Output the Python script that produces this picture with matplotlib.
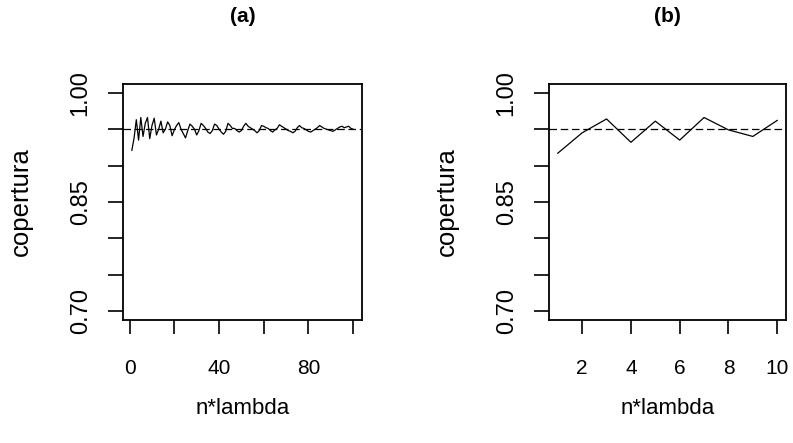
import matplotlib
matplotlib.use("Agg")
import matplotlib.pyplot as plt
import numpy as np

plt.rcParams['font.family'] = ['Liberation Sans', 'DejaVu Sans']

# panel (a): coverage vs n*lambda = 1..100
x_a = list(range(1, 101))
cov_a = [0.921, 0.938, 0.963, 0.935, 0.966, 0.940, 0.958, 0.966, 0.937, 0.955,
         0.965, 0.942, 0.950, 0.961, 0.945, 0.950, 0.960, 0.955, 0.941, 0.949,
         0.955, 0.959, 0.950, 0.944, 0.938, 0.948, 0.957, 0.954, 0.950, 0.942,
         0.948, 0.958, 0.955, 0.951, 0.946, 0.944, 0.948, 0.957, 0.955, 0.950,
         0.946, 0.943, 0.947, 0.958, 0.955, 0.951, 0.951, 0.948, 0.946, 0.948,
         0.954, 0.958, 0.954, 0.952, 0.950, 0.948, 0.945, 0.948, 0.955, 0.954,
         0.952, 0.951, 0.948, 0.946, 0.949, 0.951, 0.956, 0.954, 0.952, 0.950,
         0.948, 0.947, 0.945, 0.947, 0.952, 0.955, 0.952, 0.951, 0.949, 0.947,
         0.946, 0.948, 0.950, 0.952, 0.955, 0.953, 0.951, 0.950, 0.949, 0.948,
         0.947, 0.949, 0.951, 0.953, 0.954, 0.952, 0.953, 0.954, 0.951, 0.950]

# panel (b): coverage vs n*lambda = 1..10
x_b = list(range(1, 11))
cov_b = [0.917, 0.945, 0.964, 0.932, 0.961, 0.935, 0.966, 0.949, 0.940, 0.962]

nominal = 0.95
titles = ["(a)", "(b)"]
xlabel = "n*lambda"
ylabel = "copertura"
yticks = [0.70, 0.75, 0.80, 0.85, 0.90, 0.95, 1.00]
ytick_labels = ["0.70", "", "", "0.85", "", "", "1.00"]
xticks_a = [0, 20, 40, 60, 80, 100]
xtick_labels_a = ["0", "", "40", "", "80", ""]
xticks_b = [2, 4, 6, 8, 10]
xtick_labels_b = ["2", "4", "6", "8", "10"]

W, H = 793, 443
fig = plt.figure(figsize=(W / 100, H / 100), dpi=100)

def add_axes(l, t, r, b):
    return fig.add_axes([l / W, 1 - b / H, (r - l) / W, (b - t) / H])

ax_a = add_axes(123, 84, 362, 320)
ax_b = add_axes(549, 84, 786, 320)

def r_lim(lo, hi):
    d = (hi - lo) * 0.04
    return lo - d, hi + d

panels = [
    (ax_a, x_a, cov_a, xticks_a, xtick_labels_a, titles[0], 123, 239),
    (ax_b, x_b, cov_b, xticks_b, xtick_labels_b, titles[1], 549, 237),
]
for ax, xs, ys, xt, xtl, title, left, width in panels:
    ax.plot(xs, ys, color="black", lw=0.9)
    ax.axhline(nominal, color="black", lw=0.9, dashes=(6, 3))
    ax.set_xlim(*r_lim(min(xs), max(xs)))
    ax.set_ylim(*r_lim(0.70, 1.00))
    ax.set_yticks(yticks)
    ax.set_yticklabels(ytick_labels, rotation=90, va="center", fontsize=17)
    ax.set_xticks(xt)
    ax.set_xticklabels(xtl, fontsize=15)
    ax.tick_params(axis="y", length=10.5, width=1.2, pad=12, color="black")
    ax.tick_params(axis="x", length=10, width=1.2, pad=18, color="black")
    for s in ax.spines.values():
        s.set_linewidth(1.3)
        s.set_color("black")
    ax.set_xlabel(xlabel, fontsize=16)
    ax.set_ylabel(ylabel, fontsize=18.5)
    ax.xaxis.set_label_coords(0.5, (320 - 398) / 236)
    ax.yaxis.set_label_coords((left - 90 - left) / width, 0.5)
    ax.set_title(title, fontsize=15, fontweight="bold", y=(320 - 25) / 236, va="center")

fig.savefig("out.png", dpi=100)
